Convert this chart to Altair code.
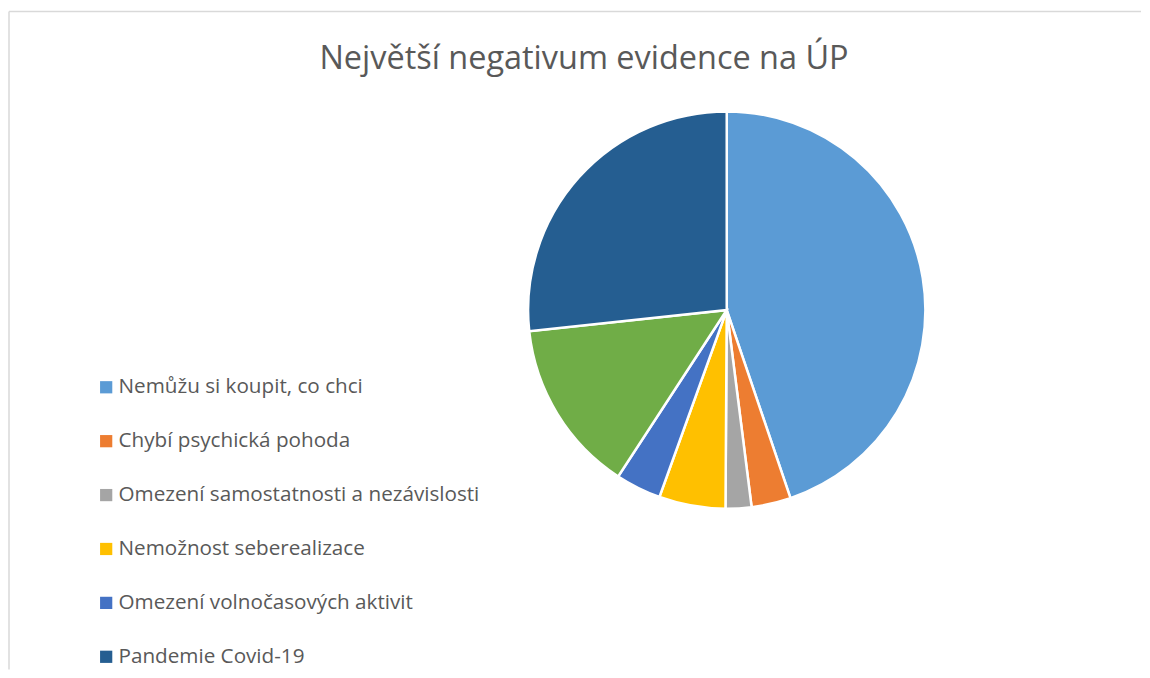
import altair as alt
import pandas as pd

title_text = "Největší negativum evidence na ÚP"
categories = [
    "Nemůžu si koupit, co chci",
    "Chybí psychická pohoda",
    "Omezení samostatnosti a nezávislosti",
    "Nemožnost seberealizace",
    "Omezení volnočasových aktivit",
    "Jiné",
    "Pandemie Covid-19",
]
values = [44.8, 3.2, 2.1, 5.4, 3.7, 14.1, 26.7]
colors = ["#5B9BD5", "#ED7D31", "#A5A5A5", "#FFC000", "#4472C4", "#70AD47", "#255E91"]
legend_items = [c for c in categories if c != "Jiné"]

df = pd.DataFrame({"kategorie": categories, "hodnota": values, "poradi": list(range(len(categories)))})

FONT = "Open Sans"

pie = alt.Chart(df).mark_arc(radius=199, stroke="white", strokeWidth=2.5).encode(
    theta=alt.Theta("hodnota:Q", stack=True),
    order=alt.Order("poradi:Q"),
    color=alt.Color(
        "kategorie:N",
        scale=alt.Scale(domain=categories, range=colors),
        legend=alt.Legend(
            values=legend_items,
            orient="none",
            legendX=87,
            legendY=369,
            title=None,
            symbolType="square",
            symbolSize=150,
            symbolStrokeWidth=0,
            labelFont=FONT,
            labelFontSize=20.7,
            labelColor="#595959",
            labelLimit=600,
            rowPadding=32,
            labelOffset=2,
        ),
    ),
    x=alt.value(719),
    y=alt.value(302),
)

title = alt.Chart(pd.DataFrame({"t": [title_text]})).mark_text(
    font=FONT, fontSize=32.5, color="#595959", align="center", baseline="middle"
).encode(text="t:N", x=alt.value(576), y=alt.value(51))

border = pd.DataFrame({"x": [0]})
top_line = alt.Chart(border).mark_rule(color="#D9D9D9", strokeWidth=1.5).encode(
    x=alt.value(0), x2=alt.value(1134), y=alt.value(3)
)
left_line = alt.Chart(border).mark_rule(color="#D9D9D9", strokeWidth=1.5).encode(
    x=alt.value(0), y=alt.value(3), y2=alt.value(662)
)

chart = alt.layer(top_line, left_line, pie, title).properties(
    width=1134, height=662, padding=0
).configure_view(stroke=None)

chart.save("out.html", embed_options={"renderer": "svg", "actions": False})
